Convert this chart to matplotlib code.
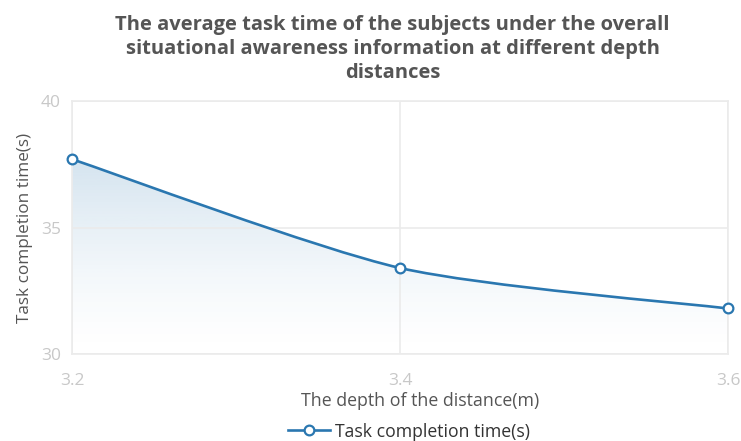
import numpy as np
import matplotlib.pyplot as plt
from matplotlib.path import Path
from matplotlib.patches import PathPatch

# data
depth = [3.2, 3.4, 3.6]
task_time = [37.7, 33.4, 31.8]
x_ticks = [3.2, 3.4, 3.6]
y_ticks = [30, 35, 40]

title = ('The average task time of the subjects under the overall\n'
         'situational awareness information at different depth\n'
         'distances')

line_color = '#2a77b0'
grid_color = '#ebebeb'
tick_color = '#c8c8c8'
label_color = '#555555'

plt.rcParams['font.family'] = ['Open Sans', 'DejaVu Sans']


def smooth_path(xs, ys, smooth=0.5):
  # cubic bezier through the points, echarts-like smoothing
  xs = np.asarray(xs, float)
  ys = np.asarray(ys, float)
  n = len(xs)
  verts = [(xs[0], ys[0])]
  codes = [Path.MOVETO]
  for i in range(n - 1):
    p0 = np.array([xs[max(i - 1, 0)], ys[max(i - 1, 0)]])
    p1 = np.array([xs[i], ys[i]])
    p2 = np.array([xs[i + 1], ys[i + 1]])
    p3 = np.array([xs[min(i + 2, n - 1)], ys[min(i + 2, n - 1)]])
    c1 = p1 + (p2 - p0) * smooth / 2 * 0.5
    c2 = p2 - (p3 - p1) * smooth / 2 * 0.5
    verts += [tuple(c1), tuple(c2), tuple(p2)]
    codes += [Path.CURVE4] * 3
  return verts, codes


fig = plt.figure(figsize=(7.41, 4.41), dpi=100)
ax = fig.add_axes([72 / 741, 1 - 354 / 441, (728 - 72) / 741, (354 - 101) / 441])

ax.set_xlim(3.2, 3.6)
ax.set_ylim(30, 40)

verts, codes = smooth_path(depth, task_time)

# gradient fill under the curve
fill_verts = verts + [(depth[-1], 30), (depth[0], 30), verts[0]]
fill_codes = codes + [Path.LINETO, Path.LINETO, Path.CLOSEPOLY]
fill_patch = PathPatch(Path(fill_verts, fill_codes), facecolor='none', edgecolor='none')
ax.add_patch(fill_patch)
grad = np.linspace(1, 0, 256).reshape(-1, 1) ** 1.4
rgba = np.zeros((256, 1, 4))
rgba[..., 0] = 0x2a / 255
rgba[..., 1] = 0x77 / 255
rgba[..., 2] = 0xb0 / 255
rgba[..., 3] = 0.2 * grad
im = ax.imshow(rgba, extent=[depth[0], depth[-1], 30, max(task_time)],
               aspect='auto', origin='upper', zorder=1)
im.set_clip_path(fill_patch)

line = PathPatch(Path(verts, codes), facecolor='none', edgecolor=line_color,
                 lw=1.9, zorder=3, capstyle='round')
ax.add_patch(line)
ax.plot(depth, task_time, linestyle='none', marker='o', markersize=7,
        markerfacecolor='white', markeredgecolor=line_color, markeredgewidth=1.6,
        zorder=4, clip_on=False)

ax.set_xticks(x_ticks)
ax.set_yticks(y_ticks)
ax.set_xticklabels(['3.2', '3.4', '3.6'])
ax.set_yticklabels(['30', '35', '40'])
ax.tick_params(length=0, labelsize=12.5, colors=tick_color)
ax.tick_params(axis='x', pad=14)
ax.tick_params(axis='y', pad=8)
ax.grid(True, color=grid_color, lw=1.2, zorder=0)
for s in ax.spines.values():
  s.set_color(grid_color)
  s.set_linewidth(1.2)

ax.set_xlabel('The depth of the distance(m)', fontsize=12.8, color=label_color)
ax.xaxis.set_label_coords((420 - 72) / 656, -0.15)
ax.set_ylabel('Task completion time(s)', fontsize=12.3, color=label_color, labelpad=6)

fig.text(0.53, 0.965, title, ha='center', va='top', fontsize=14.5, fontweight='bold',
         color='#555555', linespacing=1.25)

# legend
handle, = ax.plot([], [], color=line_color, lw=1.9, marker='o', markersize=7,
                  markerfacecolor='white', markeredgecolor=line_color, markeredgewidth=1.6)
fig.legend([handle], ['Task completion time(s)'], loc='lower center',
           bbox_to_anchor=(0.552, -0.035), frameon=False, fontsize=12.7,
           labelcolor='#333333', handlelength=2.4, handletextpad=0.3)

fig.savefig('out.png', dpi=100)
